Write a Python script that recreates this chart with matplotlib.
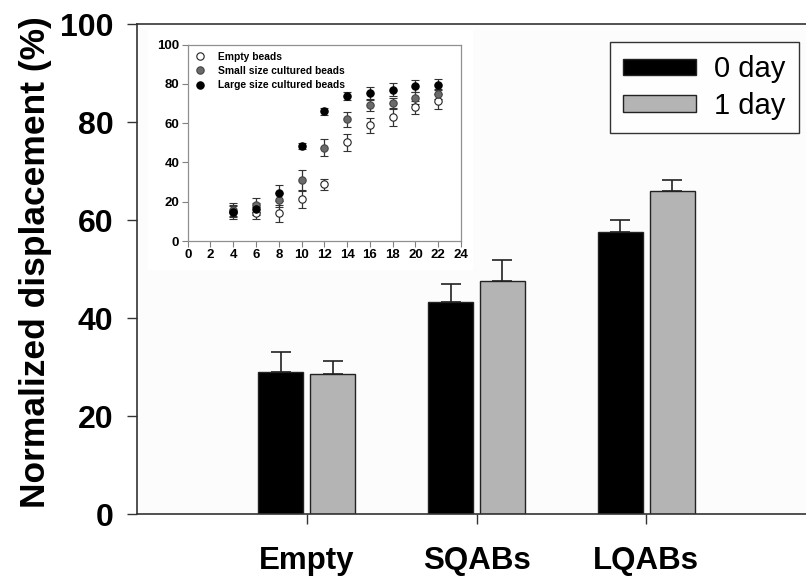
import matplotlib
matplotlib.use("Agg")
import matplotlib.pyplot as plt
from matplotlib.lines import Line2D
from matplotlib.patches import Rectangle
import numpy as np

plt.rcParams['font.family'] = ['Liberation Sans', 'DejaVu Sans']

# Main bar chart data
categories = ["Empty", "SQABs", "LQABs"]
day0_values = [28.9, 43.2, 57.5]
day0_err = [4.1, 3.7, 2.4]
day1_values = [28.6, 47.5, 65.9]
day1_err = [2.7, 4.3, 2.2]
series_labels = ["0 day", "1 day"]

# Inset data
inset_x = [4, 6, 8, 10, 12, 14, 16, 18, 20, 22]
empty_beads = [15.0, 14.4, 14.1, 21.4, 28.9, 50.3, 58.9, 63.3, 68.1, 71.1]
empty_err = [3.0, 3.0, 4.4, 4.4, 2.8, 4.4, 4.0, 4.6, 3.3, 3.9]
small_beads = [16.0, 18.2, 20.9, 30.9, 47.5, 62.1, 69.4, 70.1, 72.8, 74.9]
small_err = [3.5, 3.5, 3.5, 5.3, 4.3, 3.8, 3.0, 3.0, 3.0, 2.5]
large_beads = [14.6, 16.3, 24.3, 48.4, 66.0, 73.9, 75.2, 77.1, 78.9, 79.6]
large_err = [3.6, 3.0, 4.0, 1.7, 1.9, 2.0, 3.5, 3.2, 3.0, 2.8]
inset_labels = ["Empty beads", "Small size cultured beads", "Large size cultured beads"]

W, H = 806, 576
fig = plt.figure(figsize=(W / 100, H / 100), dpi=100)

def fx(px):
    return px / W

def fy(py):
    return 1 - py / H

ax = fig.add_axes([fx(137), fy(514), fx(816) - fx(137), fy(24) - fy(514)])
ax.set_facecolor('#fcfcfc')
x = np.arange(len(categories))
bw = 0.265
off = 0.152
ax.bar(x - off, day0_values, bw, color='black', edgecolor='#222222', linewidth=1,
       label=series_labels[0], zorder=2)
ax.bar(x + off, day1_values, bw, color='#b4b4b4', edgecolor='#222222', linewidth=1,
       label=series_labels[1], zorder=2)
ax.errorbar(x - off, day0_values, yerr=[np.zeros(3), day0_err], fmt='none',
            ecolor='#222222', elinewidth=1.2, capsize=7, capthick=1.2, zorder=3)
ax.errorbar(x + off, day1_values, yerr=[np.zeros(3), day1_err], fmt='none',
            ecolor='#222222', elinewidth=1.2, capsize=7, capthick=1.2, zorder=3)
ax.set_xlim(-1, 3.0)
ax.set_ylim(0, 100)
ax.set_yticks([0, 20, 40, 60, 80, 100])
ax.set_xticks(x)
ax.set_xticklabels(categories, fontsize=22.5, fontweight='bold')
ax.tick_params(axis='y', labelsize=23, length=7, width=1, direction='out', pad=10, color='#333333')
ax.tick_params(axis='x', length=7, width=1, direction='out', pad=16, color='#333333')
for lab in ax.get_yticklabels():
    lab.set_fontweight('bold')
ax.spines['right'].set_visible(False)
for s in ['left', 'bottom', 'top']:
    ax.spines[s].set_color('#333333')
    ax.spines[s].set_linewidth(1.2)
ax.set_ylabel("Normalized displacement (%)", fontsize=25.5, fontweight='bold')
ax.yaxis.set_label_coords(-(137 - 52) / (816 - 137), 0.515)

leg = ax.legend(loc='upper right', bbox_to_anchor=(fx(799), fy(42)),
                bbox_transform=fig.transFigure, fontsize=21, frameon=True,
                fancybox=False, edgecolor='black', handlelength=2.53,
                handleheight=0.48, handletextpad=0.62, labelspacing=0.3,
                borderpad=0.45, borderaxespad=0)
leg.get_frame().set_linewidth(1.0)

# white backdrop for inset
fig.patches.append(Rectangle((fx(148), fy(270)), fx(473) - fx(148), fy(30) - fy(270),
                             transform=fig.transFigure, facecolor='white',
                             edgecolor='none', zorder=1))

ins = fig.add_axes([fx(187.7), fy(241), fx(461) - fx(187.7), fy(44.7) - fy(241)], zorder=2)
ins.set_facecolor('white')
ek = dict(ecolor='#333333', elinewidth=0.9, capsize=3, capthick=0.9, linestyle='none')
ms = 5.3
ins.errorbar(inset_x, empty_beads, yerr=empty_err, fmt='o', ms=ms, mfc='white',
             mec='#222222', mew=0.8, **ek)
ins.errorbar(inset_x, small_beads, yerr=small_err, fmt='o', ms=ms, mfc='#6a6a6a',
             mec='#444444', mew=0.8, **ek)
ins.errorbar(inset_x, large_beads, yerr=large_err, fmt='o', ms=ms, mfc='black',
             mec='black', mew=0.8, **ek)
ins.set_xlim(0, 24)
ins.set_ylim(0, 100)
ins.set_xticks(range(0, 25, 2))
ins.set_yticks(range(0, 101, 20))
ins.tick_params(labelsize=9.5, length=4, width=0.8, direction='out', color='#808080', pad=2)
for lab in ins.get_xticklabels() + ins.get_yticklabels():
    lab.set_fontweight('bold')
for s in ins.spines.values():
    s.set_color('#909090')
    s.set_linewidth(0.9)

handles = [
    Line2D([], [], marker='o', linestyle='none', ms=ms, mfc='white', mec='#222222', mew=0.8),
    Line2D([], [], marker='o', linestyle='none', ms=ms, mfc='#6a6a6a', mec='#444444', mew=0.8),
    Line2D([], [], marker='o', linestyle='none', ms=ms, mfc='black', mec='black', mew=0.8),
]
ileg = ins.legend(handles, inset_labels, loc='upper left', frameon=False,
                  prop={'size': 7.4, 'weight': 'bold'}, handlelength=1.0,
                  handletextpad=1.2, labelspacing=0.4, borderaxespad=0.3,
                  bbox_to_anchor=(0.0, 1.0))

fig.savefig("out.png", dpi=100)
